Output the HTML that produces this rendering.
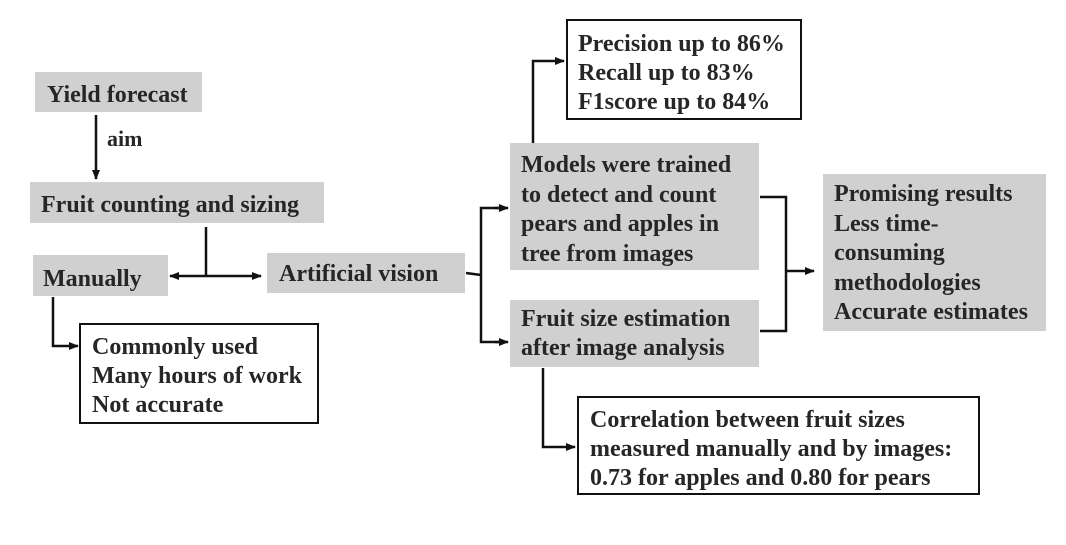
<!DOCTYPE html>
<html><head><style>
body{margin:0;background:#fff;width:1066px;height:545px;position:relative;overflow:hidden;font-family:"Liberation Serif",serif;font-weight:bold;color:#262626;}
.b{position:absolute;box-sizing:border-box;font-size:24px;line-height:29px;padding:6px 10px;white-space:nowrap;letter-spacing:0px}
.g{background:#d0d0d0}
.w{border:2px solid #111;background:#fff}
svg{position:absolute;left:0;top:0}
</style></head><body>
<div class="b g" style="left:35px;top:72px;width:167px;height:40px;padding:9px 12px 0">Yield forecast</div>
<div class="b g" style="left:30px;top:182px;width:294px;height:41px;padding:9px 11px 0">Fruit counting and sizing</div>
<div class="b g" style="left:33px;top:255px;width:135px;height:41px;padding:10px 10px 0">Manually</div>
<div class="b g" style="left:267px;top:253px;width:198px;height:40px;padding:7px 12px 0">Artificial vision</div>
<div class="b w" style="left:79px;top:323px;width:240px;height:101px;padding:8px 11px">Commonly used<br>Many hours of work<br>Not accurate</div>
<div class="b w" style="left:566px;top:19px;width:236px;height:101px;padding:9px 10px">Precision up to 86%<br>Recall up to 83%<br>F1score up to 84%</div>
<div class="b g" style="left:510px;top:143px;width:249px;height:127px;padding:8px 11px 0;line-height:29.7px">Models were trained<br>to detect and count<br>pears and apples in<br>tree from images</div>
<div class="b g" style="left:510px;top:300px;width:249px;height:67px;padding:5px 11px">Fruit size estimation<br>after image analysis</div>
<div class="b g" style="left:823px;top:174px;width:223px;height:157px;padding:6px 11px 0;line-height:29.6px">Promising results<br>Less time-<br>consuming<br>methodologies<br>Accurate estimates</div>
<div class="b w" style="left:577px;top:396px;width:403px;height:99px;padding:8px 11px">Correlation between fruit sizes<br>measured manually and by images:<br>0.73 for apples and 0.80 for pears</div>
<div style="position:absolute;left:107px;top:126px;font-size:22px">aim</div>
<svg width="1066" height="545">
<defs><marker id="a" markerWidth="10" markerHeight="10" refX="9" refY="5" orient="auto" markerUnits="userSpaceOnUse"><path d="M0,1 L10,5 L0,9 z" fill="#111"/></marker></defs>
<g stroke="#111" stroke-width="2.5" fill="none">
<line x1="96" y1="115" x2="96" y2="179" marker-end="url(#a)"/>
<line x1="206" y1="227" x2="206" y2="276"/>
<line x1="206" y1="276" x2="170" y2="276" marker-end="url(#a)"/>
<line x1="206" y1="276" x2="261" y2="276" marker-end="url(#a)"/>
<polyline points="53,297 53,346 78,346" marker-end="url(#a)"/>
<line x1="466" y1="273" x2="481" y2="275"/>
<polyline points="500,208 481,208 481,342 500,342"/>
<line x1="495" y1="208" x2="508" y2="208" marker-end="url(#a)"/>
<line x1="495" y1="342" x2="508" y2="342" marker-end="url(#a)"/>
<polyline points="533,143 533,61 564,61" marker-end="url(#a)"/>
<polyline points="760,197 786,197 786,331 760,331"/>
<line x1="786" y1="271" x2="814" y2="271" marker-end="url(#a)"/>
<polyline points="543,368 543,447 575,447" marker-end="url(#a)"/>
</g></svg>
</body></html>
